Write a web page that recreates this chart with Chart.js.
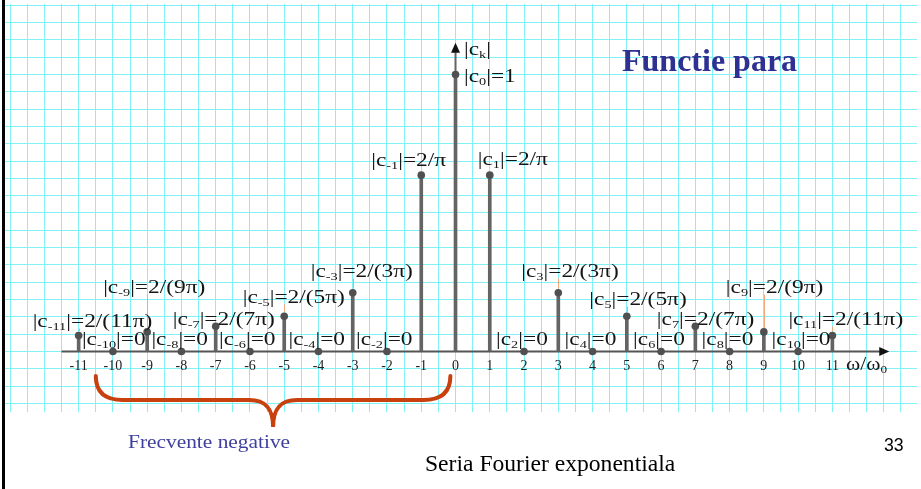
<!DOCTYPE html>
<html>
<head>
<meta charset="utf-8">
<script src="https://cdn.jsdelivr.net/npm/chart.js@4.4.1/dist/chart.umd.min.js"></script>
<style>
  html, body { margin: 0; padding: 0; background: #fff; }
  #wrap { width: 921px; height: 489px; }
</style>
</head>
<body>
<div id="wrap"><canvas id="spectrum" width="921" height="489"></canvas></div>
<script>
// harmonic index k and |c_k| of the even square wave
const harmonics = [-11, -10, -9, -8, -7, -6, -5, -4, -3, -2, -1, 0, 1, 2, 3, 4, 5, 6, 7, 8, 9, 10, 11];
const magnitudes = [0.0579, 0, 0.0707, 0, 0.0909, 0, 0.1273, 0, 0.2122, 0, 0.6366, 1,
                    0.6366, 0, 0.2122, 0, 0.1273, 0, 0.0909, 0, 0.0707, 0, 0.0579];
const valueTexts = ['2/(11π)', '0', '2/(9π)', '0', '2/(7π)', '0', '2/(5π)', '0', '2/(3π)', '0', '2/π', '1',
                    '2/π', '0', '2/(3π)', '0', '2/(5π)', '0', '2/(7π)', '0', '2/(9π)', '0', '2/(11π)'];
const tickLabels = harmonics.map(String);

// label placement: [dx from stem, baseline dy from axis] in px
const labelPos = [
  [-46, -25], [-31, -7], [-44, -59], [-30, -7], [-43, -27], [-31, -7], [-41.5, -49], [-30, -7],
  [-42, -75], [-31, -7], [-50, -186], [8.5, -270], [-12, -187], [-28, -7], [-37, -75], [-28, -7],
  [-37.5, -47], [-28, -7], [-38.5, -27], [-28, -7], [-38, -59], [-26.5, -7], [-44, -27]
];

const GRID = '#80f2f7';
const STEM = '#646464';
const DOT = '#505050';
const LEADER = '#f2a878';
const SERIF = '"Liberation Serif", "Times New Roman", serif';
const SX = 1.3;  // the math labels are set wide

function mathText(ctx, x, y, parts, size, sx) {
  ctx.save();
  ctx.translate(x, y);
  ctx.scale(sx, 1);
  ctx.textBaseline = 'alphabetic';
  ctx.textAlign = 'left';
  let cx = 0;
  for (const [txt, sub] of parts) {
    ctx.font = (sub ? Math.round(size * 0.62) : size) + 'px ' + SERIF;
    ctx.fillText(txt, cx, sub ? 3 : 0);
    cx += ctx.measureText(txt).width;
  }
  ctx.restore();
}

function plainText(ctx, txt, x, y, font, color, sx) {
  ctx.save();
  ctx.translate(x, y);
  ctx.scale(sx, 1);
  ctx.font = font;
  ctx.fillStyle = color;
  ctx.textBaseline = 'alphabetic';
  ctx.textAlign = 'left';
  ctx.fillText(txt, 0, 0);
  ctx.restore();
}

const slide = {
  id: 'slide',
  beforeDraw(chart) {
    const ctx = chart.ctx;
    ctx.save();
    ctx.fillStyle = '#fff';
    ctx.fillRect(0, 0, chart.width, chart.height);
    ctx.restore();
  },
  beforeDatasetsDraw(chart) {
    const ctx = chart.ctx, xs = chart.scales.x, ys = chart.scales.y;
    const y0 = ys.getPixelForValue(0);
    ctx.save();
    // abscissa
    ctx.strokeStyle = '#555';
    ctx.lineWidth = 2;
    ctx.beginPath();
    ctx.moveTo(xs.getPixelForValue(-11.5), y0);
    ctx.lineTo(xs.getPixelForValue(12.45), y0);
    ctx.stroke();
    // ordinate
    ctx.strokeStyle = STEM;
    ctx.beginPath();
    ctx.moveTo(xs.getPixelForValue(0), y0);
    ctx.lineTo(xs.getPixelForValue(0), ys.getPixelForValue(1.1));
    ctx.stroke();
    // leaders from the labels down to the lines
    ctx.strokeStyle = LEADER;
    ctx.lineWidth = 1;
    harmonics.forEach((k, i) => {
      if (Math.abs(k) < 3 || magnitudes[i] === 0) return;
      const px = Math.round(xs.getPixelForValue(k)) + 0.5;
      const top = y0 + labelPos[i][1] + 2;
      const bot = ys.getPixelForValue(magnitudes[i]) - 4;
      if (bot > top) {
        ctx.beginPath();
        ctx.moveTo(px, top);
        ctx.lineTo(px, bot);
        ctx.stroke();
      }
    });
    ctx.restore();
  },
  afterDatasetsDraw(chart) {
    const ctx = chart.ctx, xs = chart.scales.x, ys = chart.scales.y;
    const y0 = ys.getPixelForValue(0);
    const x0 = xs.getPixelForValue(0);
    ctx.save();
    // arrow heads
    ctx.fillStyle = '#111';
    const xt = xs.getPixelForValue(12.66);
    ctx.beginPath();
    ctx.moveTo(xt, y0);
    ctx.lineTo(xt - 10, y0 - 4.5);
    ctx.lineTo(xt - 10, y0 + 4.5);
    ctx.closePath();
    ctx.fill();
    const yt = ys.getPixelForValue(1.115);
    ctx.beginPath();
    ctx.moveTo(x0, yt);
    ctx.lineTo(x0 - 4.5, yt + 10);
    ctx.lineTo(x0 + 4.5, yt + 10);
    ctx.closePath();
    ctx.fill();

    // |c_k| labels
    ctx.fillStyle = '#151515';
    harmonics.forEach((k, i) => {
      const px = xs.getPixelForValue(k) + labelPos[i][0];
      const py = y0 + labelPos[i][1];
      mathText(ctx, px, py, [['|c', false], [String(k), true], ['|=' + valueTexts[i], false]], 18, SX);
    });
    mathText(ctx, x0 + 8.5, y0 - 297, [['|c', false], ['k', true], ['|', false]], 18, SX);
    mathText(ctx, xs.getPixelForValue(11.4), y0 + 18, [['ω/ω', false], ['0', true]], 18, 1.2);

    // brace under the negative frequencies
    const bl = xs.getPixelForValue(-10.5), br = xs.getPixelForValue(-0.15), bm = (bl + br) / 2;
    ctx.strokeStyle = '#c8400e';
    ctx.lineWidth = 4;
    ctx.lineCap = 'round';
    ctx.beginPath();
    ctx.moveTo(bl, 376);
    ctx.quadraticCurveTo(bl, 400, bl + 27, 400);
    ctx.lineTo(bm - 24, 400);
    ctx.bezierCurveTo(bm - 6, 400, bm, 410, bm, 427);
    ctx.bezierCurveTo(bm, 410, bm + 6, 400, bm + 24, 400);
    ctx.lineTo(br - 27, 400);
    ctx.quadraticCurveTo(br, 400, br, 376);
    ctx.stroke();

    // slide texts
    plainText(ctx, 'Functie para', 622, 71, 'bold 32px ' + SERIF, '#2e3192', 1);
    plainText(ctx, 'Frecvente negative', 128, 448, '18.6px ' + SERIF, '#3f3fa0', 1.15);
    plainText(ctx, 'Seria Fourier exponentiala', 425, 471, '23.6px ' + SERIF, '#000', 1);
    plainText(ctx, '33', 884, 451, '17.7px "Liberation Sans", Arial, sans-serif', '#000', 1);

    // slide edge
    ctx.fillStyle = '#000';
    ctx.fillRect(2, 0, 3, chart.height);
    ctx.restore();
  }
};

new Chart(document.getElementById('spectrum'), {
  data: {
    datasets: [
      {
        type: 'scatter',
        order: 0,
        data: harmonics.map((k, i) => ({ x: k, y: magnitudes[i] })),
        pointRadius: 3.8,
        pointBackgroundColor: DOT,
        pointBorderColor: DOT,
        pointBorderWidth: 0
      },
      {
        type: 'bar',
        order: 1,
        data: harmonics.map((k, i) => ({ x: k, y: magnitudes[i] })),
        backgroundColor: STEM,
        barThickness: 3,
        grouped: false
      }
    ]
  },
  options: {
    responsive: false,
    animation: false,
    layout: { padding: { left: 5, top: 4, right: 0, bottom: 77 } },
    plugins: { legend: { display: false }, tooltip: { enabled: false } },
    scales: {
      x: {
        type: 'linear',
        position: { y: 0 },
        min: -13.15,
        max: 13.47,
        offset: false,
        border: { display: false },
        grid: { color: GRID, lineWidth: 1, drawTicks: false, offset: false },
        ticks: {
          stepSize: 0.5,
          includeBounds: false,
          autoSkip: false,
          maxRotation: 0,
          padding: 6,
          color: '#222',
          font: { family: SERIF, size: 14 },
          callback: v => {
            const i = harmonics.indexOf(v);
            return i >= 0 ? tickLabels[i] : '';
          }
        }
      },
      y: {
        type: 'linear',
        min: -0.2184,
        max: 1.2545,
        border: { display: false },
        grid: { color: GRID, lineWidth: 1, drawTicks: false },
        ticks: { display: false, stepSize: 0.0625, includeBounds: false }
      }
    }
  },
  plugins: [slide]
});
</script>
</body>
</html>
